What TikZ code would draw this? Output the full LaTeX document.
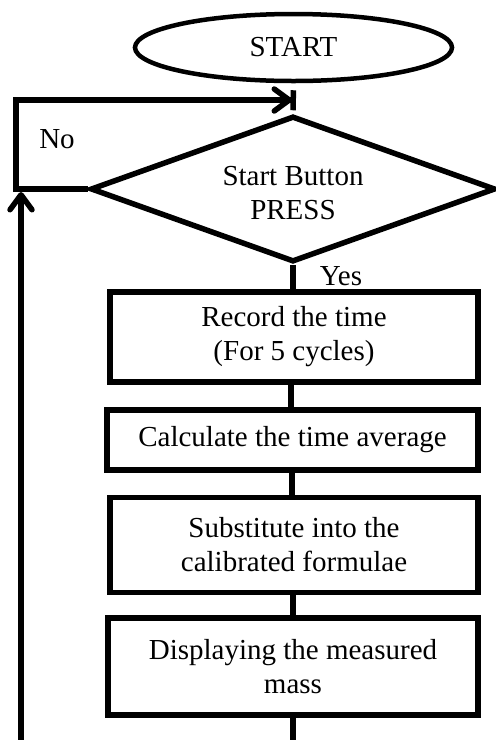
\documentclass[tikz,border=0pt]{standalone}
\usepackage{fontspec}
\setmainfont{Liberation Serif}
\usetikzlibrary{shapes.geometric,arrows.meta}
\begin{document}
\begin{tikzpicture}[x=1pt,y=-1pt,
  every node/.style={font=\fontsize{29}{34}\selectfont, inner sep=0pt},
  stepbox/.style={draw, line width=5.5pt, rectangle, align=center},
  conn/.style={line width=5.5pt},
  arr/.style={line width=5.5pt, -{Straight Barb[length=15pt,width=22pt,round]}}
]
\useasboundingbox (0,0) rectangle (496,740);
% nodes
\node[draw, ellipse, line width=4.5pt, minimum width=317pt, minimum height=67pt] (start) at (293.5,47.5) {START};
\node[draw, diamond, line width=5.5pt, minimum width=405pt, minimum height=146pt] (dec) at (293,189) {};
\node[align=center] (dectxt) at (293,193) {Start Button\\PRESS};
\node[stepbox, minimum width=368pt, minimum height=90pt] (b1) at (294,337) {Record the time\\(For 5 cycles)};
\node[stepbox, minimum width=371pt, minimum height=60pt] (b2) at (292.5,440) {Calculate the time average};
\node[stepbox, minimum width=368pt, minimum height=95pt] (b3) at (294,545) {Substitute into the\\calibrated formulae};
\node[stepbox, minimum width=370pt, minimum height=97pt] (b4) at (293,666.5) {Displaying the measured\\mass};
\node (no) at (57,139) {No};
\node (yes) at (341,276) {Yes};
% helper coordinates
\coordinate (lc) at (16,189);
\coordinate (tc) at (16,100);
\coordinate (tip) at (292,100);
\coordinate (upbot) at (21,742);
\coordinate (uptip) at (21,192);
\coordinate (mainbot) at (293,742);
% connectors
\draw[conn, shorten <=7pt, shorten >=3pt] (start.south) -- (dec.north);
\draw[conn, line join=miter] (dec.west) -- (lc) -- (tc) -- (tc -| tip);
\draw[arr] (tc) -- (tip);
\draw[conn] (dec.south) -- (dec.south |- b1.north);
\draw[conn] (b1.south -| 291,0) -- (b2.north -| 291,0);
\draw[conn] (b2.south -| 292,0) -- (b3.north -| 292,0);
\draw[conn] (b3.south -| 293,0) -- (b4.north -| 293,0);
\draw[conn] (b4.south) -- (b4.south |- mainbot);
\draw[arr] (upbot) -- (uptip);
\end{tikzpicture}
\end{document}
